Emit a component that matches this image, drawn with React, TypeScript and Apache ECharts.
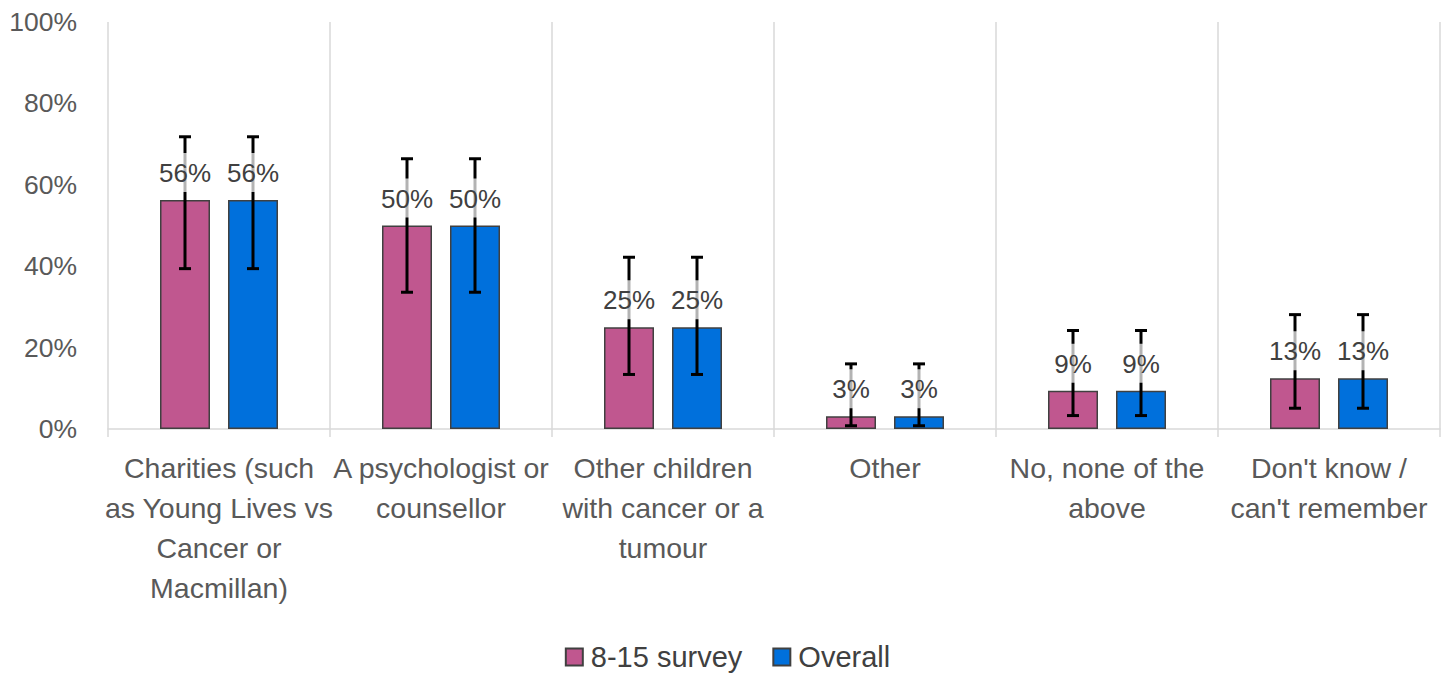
import React, { useEffect, useRef } from "react";
import * as echarts from "echarts";

const categories = [
  "Charities (such\nas Young Lives vs\nCancer or\nMacmillan)",
  "A psychologist or\ncounsellor",
  "Other children\nwith cancer or a\ntumour",
  "Other",
  "No, none of the\nabove",
  "Don't know /\ncan't remember",
];
const seriesNames = ["8-15 survey", "Overall"];
const survey815 = [56.25, 50, 25, 3.125, 9.375, 12.5];
const overall = [56.25, 50, 25, 3.125, 9.375, 12.5];
const survey815Low = [39.4, 33.6, 13.4, 0.8, 3.3, 5.1];
const survey815High = [71.8, 66.4, 42.2, 16.0, 24.2, 28.1];
const overallLow = [39.4, 33.6, 13.4, 0.8, 3.3, 5.1];
const overallHigh = [71.8, 66.4, 42.2, 16.0, 24.2, 28.1];
const yTicks = [0, 20, 40, 60, 80, 100];

const FONT = "'Liberation Sans', Arial, sans-serif";
const colors = ["#C0578F", "#0070DC"];
const BAR_W = 50;
const BAR_GAP = 18;

function errorSeries(name: string, values: number[], lows: number[], highs: number[], sign: number) {
  const data = values.map((v, i) => [i, lows[i], highs[i], v]);
  return {
    type: "custom",
    name: name + " error",
    z: 3,
    silent: true,
    encode: { x: 0, y: [1, 2] },
    data,
    renderItem: (params: any, api: any) => {
      const idx = api.value(0);
      const lo = api.coord([idx, api.value(1)]);
      const hi = api.coord([idx, api.value(2)]);
      const top = api.coord([idx, api.value(3)]);
      const x = lo[0] + sign * (BAR_W + BAR_GAP) / 2;
      const cap = 6;
      const lineStyle = { stroke: "#000", lineWidth: 3 };
      const label = Math.round(api.value(3)) + "%";
      return {
        type: "group",
        children: [
          { type: "line", shape: { x1: x, y1: lo[1], x2: x, y2: hi[1] }, style: lineStyle },
          { type: "line", shape: { x1: x - cap, y1: lo[1], x2: x + cap, y2: lo[1] }, style: lineStyle },
          { type: "line", shape: { x1: x - cap, y1: hi[1], x2: x + cap, y2: hi[1] }, style: lineStyle },
          {
            type: "text",
            x,
            y: top[1] - 8,
            style: {
              text: label,
              fontSize: 26,
              fontFamily: FONT,
              fill: "#404040",
              align: "center",
              verticalAlign: "bottom",
              backgroundColor: "rgba(255,255,255,0.7)",
              padding: [7, 0, 6, 0],
            },
          },
        ],
      };
    },
  };
}

export default function App() {
  const ref = useRef<HTMLDivElement>(null);
  useEffect(() => {
    if (!ref.current) return;
    const chart = echarts.init(ref.current, null, { renderer: "svg" });
    const barItem = (c: string) => ({ color: c, borderColor: "#404040", borderWidth: 1.5 });
    chart.setOption({
      animation: false,
      color: colors,
      grid: { left: 108, right: 15, top: 22, bottom: 244 },
      legend: {
        data: seriesNames,
        top: 637,
        left: "center",
        icon: "rect",
        itemWidth: 17,
        itemHeight: 17,
        itemGap: 30,
        textStyle: { fontSize: 29, lineHeight: 30, fontFamily: FONT, color: "#404040", padding: [0, 0, 0, 3] },
      },
      xAxis: {
        type: "category",
        data: categories,
        axisLine: { show: true, lineStyle: { color: "#d9d9d9", width: 1.5 } },
        axisTick: { show: true, length: 8, lineStyle: { color: "#d9d9d9", width: 1.5 } },
        splitLine: { show: true, lineStyle: { color: "#d9d9d9", width: 1.5 } },
        axisLabel: {
          interval: 0,
          margin: 19,
          fontSize: 28.5,
          lineHeight: 40,
          fontFamily: FONT,
          color: "#595959",
          align: "center",
        },
      },
      yAxis: {
        type: "value",
        min: yTicks[0],
        max: yTicks[yTicks.length - 1],
        interval: 20,
        axisLine: { show: false },
        axisTick: { show: false },
        splitLine: { show: false },
        axisLabel: {
          formatter: "{value}%",
          fontSize: 26.5,
          fontFamily: FONT,
          color: "#595959",
          margin: 31,
        },
      },
      series: [
        {
          type: "bar",
          name: seriesNames[0],
          data: survey815,
          barWidth: BAR_W,
          barGap: (BAR_GAP / BAR_W) * 100 + "%",
          itemStyle: barItem(colors[0]),
          z: 2,
        },
        {
          type: "bar",
          name: seriesNames[1],
          data: overall,
          barWidth: BAR_W,
          barGap: (BAR_GAP / BAR_W) * 100 + "%",
          itemStyle: barItem(colors[1]),
          z: 2,
        },
        errorSeries(seriesNames[0], survey815, survey815Low, survey815High, -1),
        errorSeries(seriesNames[1], overall, overallLow, overallHigh, 1),
      ],
    });
    return () => chart.dispose();
  }, []);
  return (
    <div
      ref={ref}
      style={{ position: "fixed", left: 0, top: 0, width: 1455, height: 673, background: "#fff" }}
    />
  );
}
